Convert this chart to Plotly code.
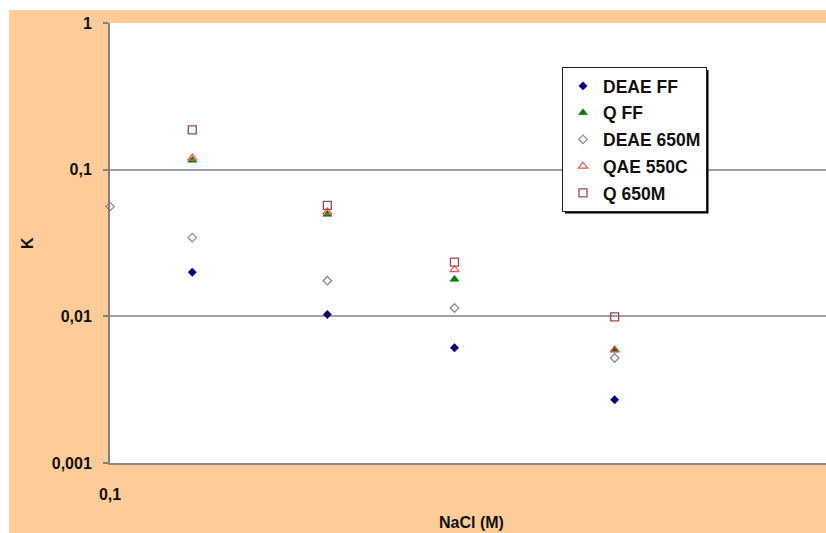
import plotly.graph_objects as go

# NaCl concentration (M) and partition coefficient K for each resin
nacl = [0.1, 0.13, 0.2, 0.3, 0.5]
deae_ff = [None, 0.0200, 0.0103, 0.0061, 0.0027]
q_ff = [None, 0.116, 0.0496, 0.0179, 0.0059]
deae_650m = [0.056, 0.0344, 0.0175, 0.0114, 0.0052]
qae_550c = [None, 0.120, 0.0514, 0.0208, 0.0059]
q_650m = [None, 0.187, 0.057, 0.0234, 0.0099]

y_ticks = [0.001, 0.01, 0.1, 1]
y_tick_text = ["0,001", "0,01", "0,1", "1"]
x_ticks = [0.1, 1]
x_tick_text = ["0,1", "1"]

W, H = 826, 533
ML, MR, MT, MB = 110, 0, 23, 70
PW, PH = W - ML - MR, H - MT - MB
DECADE_X = 722.0  # pixels per decade on the x axis


def px_x(p):
    return (p - ML) / PW


def px_y(p):
    return (H - MB - p) / PH


FONT = "Liberation Sans, Arial, sans-serif"
ORANGE = "#FFCC99"

series = [
    ("DEAE FF", deae_ff, dict(symbol="diamond", size=6.5, color="#000080",
                              line=dict(width=0.5, color="#000080"))),
    ("Q FF", q_ff, dict(symbol="triangle-up", size=8, color="#008000",
                        line=dict(width=0.5, color="#008000"))),
    ("DEAE 650M", deae_650m, dict(symbol="diamond-open", size=6.5, color="#8C8C8C",
                                  line=dict(width=1.3, color="#8C8C8C"))),
    ("QAE 550C", qae_550c, dict(symbol="triangle-up-open", size=8, color="#FF5050",
                                line=dict(width=1.2, color="#FF5050"))),
    ("Q 650M", q_650m, dict(symbol="square-open", size=8, color="#A04848",
                            line=dict(width=1.3, color="#A04848"))),
]

fig = go.Figure()
for name, vals, marker in series:
    fig.add_trace(go.Scatter(
        x=nacl, y=vals, name=name, mode="markers", marker=marker,
        legendgroup=name, cliponaxis=False,
    ))

# Orange frame with a thin white border along the top and left edges
shapes = [
    dict(type="rect", xref="paper", yref="paper", layer="below",
         x0=px_x(0), x1=px_x(W), y0=px_y(10), y1=px_y(0),
         fillcolor="white", line=dict(width=0)),
    dict(type="rect", xref="paper", yref="paper", layer="below",
         x0=px_x(0), x1=px_x(9), y0=px_y(H), y1=px_y(0),
         fillcolor="white", line=dict(width=0)),
]

# Legend box and its drop shadow
LEG_L, LEG_T, LEG_R, LEG_B = 562, 67, 706, 211
shapes.append(dict(type="rect", xref="paper", yref="paper", layer="above",
                   x0=px_x(LEG_L + 3), x1=px_x(LEG_R + 2.5),
                   y0=px_y(LEG_B + 2.5), y1=px_y(LEG_T + 3),
                   fillcolor="black", line=dict(width=0)))

fig.update_layout(
    width=W, height=H,
    margin=dict(l=ML, r=MR, t=MT, b=MB, pad=0),
    paper_bgcolor=ORANGE,
    plot_bgcolor="white",
    font=dict(family=FONT, size=16, color="#111111", weight="bold"),
    shapes=shapes,
    showlegend=True,
    legend=dict(
        x=px_x(LEG_L), y=px_y(LEG_T), xanchor="left", yanchor="top",
        bgcolor="white", bordercolor="#222222", borderwidth=1,
        font=dict(family=FONT, size=17.5, color="#111111", weight="bold"),
        tracegroupgap=1, itemwidth=30,
    ),
    xaxis=dict(
        type="log", range=[-1, -1 + PW / DECADE_X],
        tickvals=x_ticks, ticktext=x_tick_text,
        showgrid=False, zeroline=False,
        showline=True, linecolor="#8A8A8A", linewidth=2,
        ticks="", ticklabelstandoff=16,
        tickfont=dict(family=FONT, size=16, color="#111111", weight="bold"),
    ),
    yaxis=dict(
        type="log", range=[-3, 0],
        tickvals=y_ticks, ticktext=y_tick_text,
        showgrid=True, gridcolor="#A0A0A0", gridwidth=2,
        zeroline=False,
        showline=True, linecolor="#808080", linewidth=2,
        ticks="outside", ticklen=5, tickcolor="#808080", tickwidth=2,
        ticklabelstandoff=8,
        tickfont=dict(family=FONT, size=16, color="#111111", weight="bold"),
    ),
    annotations=[
        dict(text="K", xref="paper", yref="paper", x=px_x(27), y=px_y(243),
             showarrow=False, textangle=-90, xanchor="center", yanchor="middle",
             font=dict(family=FONT, size=16, color="#111111", weight="bold")),
        dict(text="NaCl (M)", xref="paper", yref="paper", x=px_x(471), y=px_y(522),
             showarrow=False, xanchor="center", yanchor="middle",
             font=dict(family=FONT, size=16, color="#111111", weight="bold")),
    ],
)

fig.write_html("out.html")
